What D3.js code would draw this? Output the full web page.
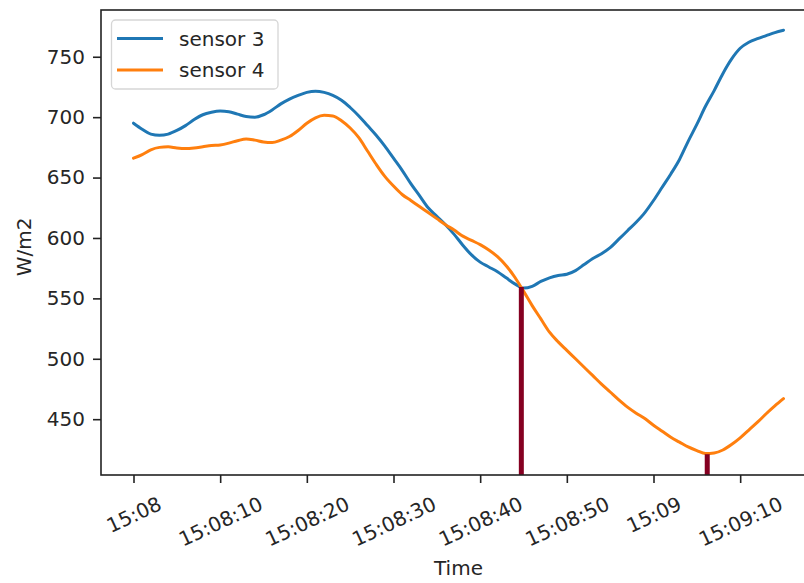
<!DOCTYPE html>
<html>
<head>
<meta charset="utf-8">
<script src="https://cdn.jsdelivr.net/npm/d3@7"></script>
<style>
  body { margin: 0; background: #fff; }
  svg { display: block; font-family: "DejaVu Sans", sans-serif; }
</style>
</head>
<body>
<div id="chart"></div>
<script>
// readings, one per second starting 15:08:00
var sensor3 = [695, 690, 686, 685, 686, 689, 693, 698, 702, 704,
    705, 704.5, 702.5, 700.5, 700, 702, 706, 711, 715, 718,
    720.5, 721.5, 720.5, 718, 714, 708, 701, 693, 685, 676,
    666, 656, 645, 635, 625, 618, 611, 603, 594, 586,
    580, 576, 572, 567, 562, 558.5, 560, 564, 567, 569,
    570, 573, 578, 583, 587, 592, 599, 606, 613, 621,
    631, 642, 653, 665, 680, 694, 709, 722, 736, 748,
    757, 762, 765, 767.5, 770, 772];
var sensor4 = [666, 669, 673, 675, 675.5, 674.5, 674, 674.5, 675.5, 676.5,
    677, 678.5, 680.5, 682, 681, 679.5, 679, 681, 684, 689,
    695, 699.5, 701.5, 701, 697, 691, 683, 672, 661, 651,
    643, 636, 631, 626, 621, 616, 611, 606.5, 601.5, 598,
    594.5, 590, 584.5, 577, 567.5, 556, 544, 533, 522, 514,
    507, 500, 493, 486, 479, 472.5, 466, 460, 455, 450.5,
    445, 440, 435, 431, 427, 424, 421.5, 422, 424.5, 429,
    434.5, 441, 447.5, 454.5, 461, 467];
var seriesNames = ['sensor 3', 'sensor 4'];
var seriesColors = ['#1f77b4', '#ff7f0e'];
// marked events: seconds after 15:08:00 and level reached
var eventSeconds = [44.75, 66.2];
var eventValues = [559.5, 421];
var yTicks = [450, 500, 550, 600, 650, 700, 750];

var WIDTH = 804;
var HEIGHT = 583;
var LEFT = 101, TOP = 10, RIGHT = 816, BOTTOM = 475;
var FONT_SIZE = 20;
var ROT = 25;

var t0 = new Date(2020, 0, 1, 15, 8, 0);
function at(sec) { return new Date(t0.getTime() + sec * 1000); }
var times = sensor3.map(function (_, i) { return at(i); });

var span = (times[times.length - 1] - times[0]);
var x = d3.scaleTime()
    .domain([new Date(+times[0] - span * 0.05), new Date(+times[times.length - 1] + span * 0.05)])
    .range([LEFT, RIGHT]);
var y = d3.scaleLinear()
    .domain([403.8, 788.7])
    .range([BOTTOM, TOP]);

var svg = d3.select('#chart').append('svg')
    .attr('width', WIDTH)
    .attr('height', HEIGHT);

svg.append('defs').append('clipPath').attr('id', 'plot')
    .append('rect')
    .attr('x', LEFT).attr('y', TOP)
    .attr('width', RIGHT - LEFT).attr('height', BOTTOM - TOP);

var plot = svg.append('g').attr('clip-path', 'url(#plot)');

var line = d3.line()
    .x(function (d, i) { return x(times[i]); })
    .y(function (d) { return y(d); })
    .curve(d3.curveMonotoneX);

[sensor3, sensor4].forEach(function (s, k) {
    plot.append('path')
        .datum(s)
        .attr('d', line)
        .attr('fill', 'none')
        .attr('stroke', seriesColors[k])
        .attr('stroke-width', 3)
        .attr('stroke-linejoin', 'round')
        .attr('stroke-linecap', 'round');
});

// event markers
plot.selectAll('line.event')
    .data(eventSeconds)
    .enter()
    .append('line')
    .attr('class', 'event')
    .attr('x1', function (d) { return x(at(d)); })
    .attr('x2', function (d) { return x(at(d)); })
    .attr('y1', y(y.domain()[0]))
    .attr('y2', function (d, i) { return y(eventValues[i]); })
    .attr('stroke', '#850021')
    .attr('stroke-width', 5);

// axes
var fmt = function (d) {
    return d.getSeconds() === 0 ? d3.timeFormat('%H:%M')(d) : d3.timeFormat('%H:%M:%S')(d);
};
var xAxis = svg.append('g')
    .attr('transform', `translate(0,${BOTTOM})`)
    .call(d3.axisBottom(x).ticks(d3.timeSecond.every(10)).tickFormat(fmt).tickSize(8).tickPadding(7));
var yAxis = svg.append('g')
    .attr('transform', `translate(${LEFT},0)`)
    .call(d3.axisLeft(y).tickValues(yTicks).tickSize(8).tickPadding(8));

[xAxis, yAxis].forEach(function (a) {
    a.select('.domain').remove();
    a.selectAll('.tick line').attr('stroke', '#222').attr('stroke-width', 1.6);
    a.selectAll('.tick text')
        .attr('fill', '#262626')
        .style('font-size', FONT_SIZE + 'px')
        .style('font-family', '"DejaVu Sans", sans-serif');
});

// rotated x labels, centred under tick, top of rotated box below axis
var rad = ROT * Math.PI / 180;
xAxis.selectAll('.tick text').each(function () {
    var t = d3.select(this);
    var w = this.getComputedTextLength();
    var h = FONT_SIZE * 1.16;
    var cy = 17 + (w * Math.sin(rad) + h * Math.cos(rad)) / 2;
    t.attr('y', 0).attr('x', 0).attr('dy', '0.35em')
        .attr('text-anchor', 'middle')
        .attr('transform', `translate(0,${cy}) rotate(${-ROT})`);
});

// frame
svg.append('rect')
    .attr('x', LEFT).attr('y', TOP)
    .attr('width', RIGHT - LEFT).attr('height', BOTTOM - TOP)
    .attr('fill', 'none')
    .attr('stroke', '#222')
    .attr('stroke-width', 1.6);

// axis titles
svg.append('text')
    .attr('x', (LEFT + RIGHT) / 2)
    .attr('y', 575)
    .attr('text-anchor', 'middle')
    .attr('fill', '#262626')
    .style('font-size', FONT_SIZE + 'px')
    .text('Time');
svg.append('text')
    .attr('transform', 'translate(31,247) rotate(-90)')
    .attr('text-anchor', 'middle')
    .attr('fill', '#262626')
    .style('font-size', FONT_SIZE + 'px')
    .text('W/m2');

// legend
var legend = svg.append('g');
legend.append('rect')
    .attr('x', 111.5).attr('y', 20)
    .attr('width', 166.5).attr('height', 69)
    .attr('rx', 4)
    .attr('fill', '#fff').attr('fill-opacity', 0.8)
    .attr('stroke', '#d6d6d6').attr('stroke-width', 1.3);
seriesNames.forEach(function (name, k) {
    var ly = 38.5 + k * 31.5;
    legend.append('line')
        .attr('x1', 117).attr('x2', 163)
        .attr('y1', ly).attr('y2', ly)
        .attr('stroke', seriesColors[k])
        .attr('stroke-width', 3);
    legend.append('text')
        .attr('x', 179).attr('y', ly)
        .attr('dy', '0.35em')
        .attr('fill', '#262626')
        .style('font-size', FONT_SIZE + 'px')
        .text(name);
});
</script>
</body>
</html>
